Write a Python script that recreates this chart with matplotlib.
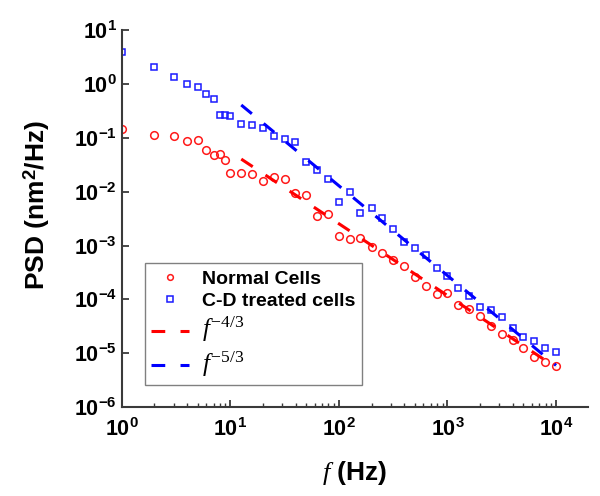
import numpy as np
import matplotlib
matplotlib.use("Agg")
import matplotlib.pyplot as plt
from matplotlib.ticker import LogLocator, FuncFormatter, NullLocator

plt.rcParams['font.family'] = ['Liberation Sans', 'DejaVu Sans']
plt.rcParams['mathtext.fontset'] = 'custom'
plt.rcParams['mathtext.rm'] = 'Liberation Serif'
plt.rcParams['mathtext.it'] = 'Liberation Serif:italic'
plt.rcParams['mathtext.bf'] = 'Liberation Sans:bold'

# frequency bins (Hz)
freq = [1, 2, 3, 4, 5, 6, 7, 8, 9, 10,
        12.6, 15.8, 20, 25.1, 31.6, 39.8, 50.1, 63.1, 79.4, 100,
        126, 158, 200, 251, 316, 398, 501, 631, 794, 1000,
        1259, 1585, 1995, 2512, 3162, 3981, 5012, 6310, 7943, 10000]

psd_normal = [0.147, 0.115, 0.11, 0.089, 0.092, 0.06, 0.047, 0.049, 0.039, 0.022,
              0.022, 0.021, 0.016, 0.019, 0.017, 0.0095, 0.0085, 0.0036, 0.0039, 0.0015,
              0.00135, 0.0014, 0.00096, 0.00074, 0.00055, 0.00041, 0.00026, 0.00018, 0.000124, 0.000129,
              7.8e-5, 6.7e-5, 5.0e-5, 3.2e-5, 2.3e-5, 1.8e-5, 1.23e-5, 8.7e-6, 6.8e-6, 5.7e-6]

psd_cd = [3.9, 2.07, 1.35, 1.0, 0.87, 0.66, 0.53, 0.26, 0.27, 0.25,
          0.18, 0.175, 0.155, 0.11, 0.096, 0.085, 0.036, 0.025, 0.017, 0.0065,
          0.01, 0.0041, 0.0049, 0.0033, 0.002, 0.00118, 0.00091, 0.00068, 0.00039, 0.00027,
          0.000166, 0.000118, 7.1e-5, 6.3e-5, 4.7e-5, 2.9e-5, 2.0e-5, 1.66e-5, 1.23e-5, 1.05e-5]

# power-law guide lines: amplitude * f^exponent
fit_range = (12.6, 10000)
amp_43, exp_43 = 1.18, -4 / 3
amp_53, exp_53 = 27.7, -5 / 3

fig = plt.figure(figsize=(6, 4.96), dpi=100)
ax = fig.add_axes([0.203, 0.179, 0.777, 0.7605])

ax.plot(freq, psd_normal, 'o', ls='none', mfc='none', mec='#ff1a1a', mew=1.1, ms=5.5,
        label='Normal Cells')
ax.plot(freq, psd_cd, 's', ls='none', mfc='none', mec='#1a1aff', mew=1.1, ms=5,
        label='C-D treated cells')

f_fit = np.logspace(np.log10(fit_range[0]), np.log10(fit_range[1]), 60)
ax.plot(f_fit, amp_43 * f_fit ** exp_43, color='#ff0000', lw=2.2, dashes=(4.5, 5),
        label=r'$f^{-4/3}$')
ax.plot(f_fit, amp_53 * f_fit ** exp_53, color='#0000ff', lw=2.2, dashes=(4.5, 5),
        label=r'$f^{-5/3}$')

ax.set_xscale('log')
ax.set_yscale('log')
ax.set_xlim(1, 1.97e4)
ax.set_ylim(1e-6, 10)

for s in ['top', 'right']:
    ax.spines[s].set_visible(False)
for s in ['left', 'bottom']:
    ax.spines[s].set_color('#3a3a3a')
    ax.spines[s].set_linewidth(1.5)

ax.xaxis.set_major_locator(LogLocator(base=10, numticks=10))
ax.xaxis.set_minor_locator(LogLocator(base=10, subs=np.arange(2, 10), numticks=10))
ax.yaxis.set_major_locator(LogLocator(base=10, numticks=10))
ax.yaxis.set_minor_locator(NullLocator())
fmt = FuncFormatter(lambda v, p: r'$\mathbf{10^{%d}}$' % int(round(np.log10(v))))
ax.xaxis.set_major_formatter(fmt)
ax.yaxis.set_major_formatter(fmt)
ax.tick_params(which='major', direction='in', length=5, width=1.3, color='#3a3a3a',
               labelsize=15.5)
ax.tick_params(which='minor', direction='in', length=3, width=1, color='#3a3a3a')
ax.tick_params(axis='x', pad=8)

ax.set_xlabel(r'$f$ (Hz)', fontsize=19, fontweight='bold', labelpad=13)
ax.set_ylabel(r'PSD (nm$^{\mathbf{2}}$/Hz)', fontsize=19, fontweight='bold')
ax.yaxis.set_label_coords(-0.15, 0.535)

leg = ax.legend(loc='lower left', bbox_to_anchor=(0.049, 0.058), borderaxespad=0,
                fancybox=False, edgecolor='#808080', framealpha=1,
                prop={'weight': 'bold', 'size': 14}, markerscale=0.75,
                handlelength=1.95, handletextpad=0.65, labelspacing=0.25,
                borderpad=0.35)
leg.get_frame().set_linewidth(1.0)
for t in leg.get_texts()[2:]:
    t.set_fontsize(18)

fig.savefig('out.png', dpi=100)
